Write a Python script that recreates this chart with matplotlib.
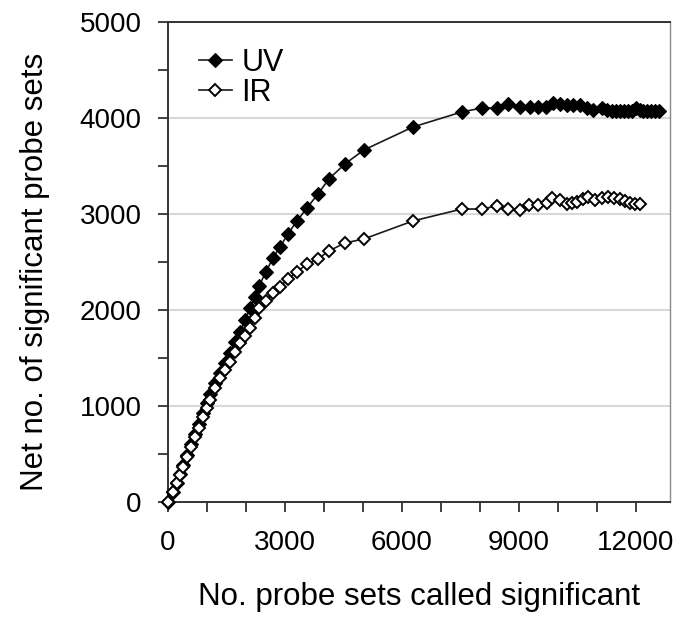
import numpy as np
import matplotlib
matplotlib.use("Agg")
import matplotlib.pyplot as plt
from matplotlib.ticker import MultipleLocator

plt.rcParams['font.family'] = ['Liberation Sans', 'DejaVu Sans']

# data
uv_x = [0, 128, 231, 308, 385, 487, 590, 692, 795, 897, 1000, 1077, 1205, 1333,
        1462, 1590, 1718, 1846, 1974, 2103, 2231, 2333, 2513, 2692, 2872, 3077,
        3308, 3564, 3846, 4128, 4538, 5026, 6282, 7538, 8051, 8436, 8718, 9026,
        9282, 9487, 9692, 9872, 10051, 10231, 10385, 10564, 10744, 10897, 11128,
        11256, 11385, 11490, 11590, 11690, 11795, 11900, 12000, 12100, 12200,
        12300, 12400, 12500, 12600]
uv_y = [0, 104, 198, 292, 385, 490, 604, 708, 813, 927, 1031, 1125, 1240, 1344,
        1448, 1552, 1667, 1771, 1896, 2021, 2135, 2250, 2396, 2542, 2656, 2792,
        2927, 3062, 3208, 3365, 3521, 3667, 3906, 4063, 4104, 4104, 4146, 4115,
        4115, 4115, 4115, 4156, 4146, 4135, 4135, 4135, 4104, 4083, 4104, 4083,
        4073, 4073, 4073, 4070, 4073, 4075, 4104, 4080, 4073, 4070, 4073, 4070,
        4068]

ir_x = [0, 128, 231, 308, 385, 487, 590, 692, 795, 897, 1000, 1077, 1205, 1333,
        1462, 1590, 1718, 1846, 1974, 2103, 2231, 2333, 2513, 2692, 2872, 3077,
        3308, 3564, 3846, 4128, 4538, 5026, 6282, 7538, 8051, 8436, 8718, 9026,
        9256, 9487, 9718, 9846, 10051, 10231, 10359, 10487, 10641, 10769, 10949,
        11128, 11282, 11436, 11590, 11718, 11846, 11974, 12103]
ir_y = [0, 104, 198, 281, 365, 469, 573, 677, 771, 885, 979, 1062, 1188, 1292,
        1375, 1458, 1562, 1656, 1729, 1812, 1917, 2021, 2094, 2177, 2240, 2323,
        2396, 2479, 2531, 2615, 2698, 2740, 2927, 3052, 3052, 3083, 3052, 3042,
        3094, 3094, 3115, 3167, 3146, 3104, 3115, 3125, 3156, 3177, 3146, 3167,
        3177, 3167, 3156, 3135, 3115, 3104, 3104]

fig = plt.figure(figsize=(6.73, 6.19), dpi=100)
ax = fig.add_axes([168 / 673, 117 / 619, 502 / 673, 480 / 619])

ax.plot(uv_x, uv_y, color='#1a1a1a', lw=1.2, marker='D', ms=6.8,
        mfc='black', mec='black', mew=0.8, label='UV', zorder=3, clip_on=False)
ax.plot(ir_x, ir_y, color='#1a1a1a', lw=1.2, marker='D', ms=6.5,
        mfc='white', mec='black', mew=1.4, label='IR', zorder=4, clip_on=False)

ax.set_xlim(0, 12880)
ax.set_ylim(0, 5000)
ax.xaxis.set_major_locator(MultipleLocator(3000))
ax.xaxis.set_minor_locator(MultipleLocator(1000))
ax.yaxis.set_major_locator(MultipleLocator(1000))
ax.yaxis.set_minor_locator(MultipleLocator(500))

ax.grid(axis='y', which='major', color='#d8d8d8', lw=1.5, zorder=0)
ax.set_axisbelow(True)

for s in ax.spines.values():
    s.set_color('#333333')
    s.set_linewidth(1.4)
ax.spines['right'].set_color('#888888')
ax.spines['right'].set_linewidth(1.0)

ax.tick_params(axis='both', which='both', direction='out', length=7, width=1.3,
               color='#333333', labelsize=20)
ax.tick_params(axis='y', which='both', pad=12)
ax.tick_params(axis='x', which='both', pad=13)

ax.set_xlabel('No. probe sets called significant', fontsize=22.5, labelpad=19)
ax.set_ylabel('Net no. of significant probe sets', fontsize=22.5, labelpad=21)
ax.yaxis.label.set_y(0.48)

leg = ax.legend(loc='upper left', bbox_to_anchor=(0.0, 1.01), frameon=False,
                fontsize=22, handlelength=1.1, handletextpad=0.3,
                labelspacing=0.0, borderaxespad=0.6)

fig.savefig('out.png', dpi=100)
